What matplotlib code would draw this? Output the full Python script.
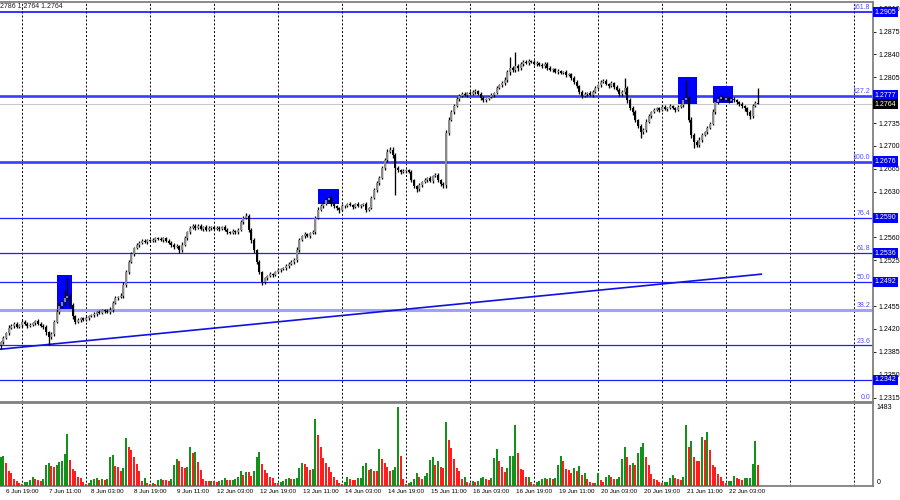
import numpy as np
import matplotlib.pyplot as plt

plt.rcParams["font.family"] = ["Liberation Sans Narrow", "Liberation Sans", "DejaVu Sans"]

# hourly closes
closes = [
    1.2400, 1.2406, 1.2414, 1.2422, 1.2425, 1.2428, 1.2423, 1.2426, 1.2431, 1.2428,
    1.2425, 1.2426, 1.2429, 1.2432, 1.2428, 1.2425, 1.2423, 1.2415, 1.2408, 1.2412,
    1.2431, 1.2446, 1.2455, 1.2461, 1.2468, 1.2471, 1.2457, 1.2440, 1.2431, 1.2434,
    1.2437, 1.2434, 1.2437, 1.2440, 1.2441, 1.2443, 1.2446, 1.2445, 1.2449, 1.2448,
    1.2446, 1.2449, 1.2460, 1.2468, 1.2469, 1.2471, 1.2487, 1.2507, 1.2523, 1.2535,
    1.2544, 1.2549, 1.2552, 1.2555, 1.2553, 1.2556, 1.2555, 1.2556, 1.2559, 1.2558,
    1.2556, 1.2559, 1.2555, 1.2552, 1.2549, 1.2546, 1.2547, 1.2541, 1.2549, 1.2559,
    1.2568, 1.2575, 1.2578, 1.2575, 1.2578, 1.2573, 1.2576, 1.2572, 1.2575, 1.2576,
    1.2573, 1.2575, 1.2573, 1.2576, 1.2572, 1.2568, 1.2567, 1.2570, 1.2568, 1.2572,
    1.2584, 1.2590, 1.2593, 1.2572, 1.2556, 1.2541, 1.2523, 1.2507, 1.2492, 1.2498,
    1.2501, 1.2504, 1.2503, 1.2507, 1.2510, 1.2512, 1.2513, 1.2516, 1.2520, 1.2523,
    1.2526, 1.2541, 1.2556, 1.2562, 1.2565, 1.2562, 1.2567, 1.2568, 1.2590, 1.2602,
    1.2608, 1.2611, 1.2617, 1.2621, 1.2611, 1.2608, 1.2605, 1.2602, 1.2608, 1.2608,
    1.2611, 1.2610, 1.2607, 1.2611, 1.2608, 1.2610, 1.2611, 1.2602, 1.2605, 1.2621,
    1.2633, 1.2643, 1.2651, 1.2666, 1.2679, 1.2691, 1.2694, 1.2686, 1.2666, 1.2663,
    1.2660, 1.2662, 1.2663, 1.2660, 1.2648, 1.2639, 1.2634, 1.2640, 1.2645, 1.2648,
    1.2651, 1.2647, 1.2654, 1.2656, 1.2648, 1.2642, 1.2640, 1.2720, 1.2740, 1.2752,
    1.2761, 1.2772, 1.2777, 1.2780, 1.2778, 1.2781, 1.2780, 1.2783, 1.2784, 1.2780,
    1.2774, 1.2770, 1.2772, 1.2775, 1.2778, 1.2781, 1.2789, 1.2793, 1.2796, 1.2801,
    1.2813, 1.2819, 1.2816, 1.2822, 1.2819, 1.2826, 1.2829, 1.2827, 1.2830, 1.2829,
    1.2826, 1.2827, 1.2824, 1.2822, 1.2826, 1.2819, 1.2816, 1.2818, 1.2813, 1.2815,
    1.2812, 1.2813, 1.2809, 1.2810, 1.2804, 1.2798, 1.2792, 1.2783, 1.2777, 1.2780,
    1.2781, 1.2778, 1.2783, 1.2789, 1.2793, 1.2798, 1.2800, 1.2795, 1.2792, 1.2796,
    1.2790, 1.2786, 1.2780, 1.2783, 1.2789, 1.2770, 1.2758, 1.2752, 1.2740, 1.2731,
    1.2721, 1.2725, 1.2737, 1.2746, 1.2752, 1.2755, 1.2758, 1.2755, 1.2760, 1.2757,
    1.2758, 1.2761, 1.2758, 1.2755, 1.2760, 1.2763, 1.2770, 1.2774, 1.2740, 1.2717,
    1.2706, 1.2702, 1.2709, 1.2717, 1.2721, 1.2728, 1.2734, 1.2752, 1.2767, 1.2772,
    1.2775, 1.2770, 1.2774, 1.2769, 1.2772, 1.2770, 1.2767, 1.2764, 1.2761, 1.2758,
    1.2752, 1.2746, 1.2761, 1.2766, 1.2764,
]
first_open = 1.2395

# wick lengths beyond the body, in pips
up_wick = [
    2, 3, 2, 4, 2, 3, 2, 1, 3, 2, 2, 3, 1, 2, 3, 2, 2, 3, 2, 4,
    3, 4, 5, 4, 12, 27, 4, 3, 2, 3, 2, 2, 3, 2, 2, 3, 2, 3, 2, 2,
    2, 4, 3, 3, 2, 4, 5, 4, 3, 3, 2, 3, 2, 2, 3, 2, 2, 3, 2, 2,
    3, 2, 2, 3, 2, 2, 3, 2, 4, 3, 2, 3, 2, 2, 3, 2, 2, 3, 2, 2,
    2, 3, 2, 2, 3, 2, 2, 3, 2, 2, 3, 3, 4, 3, 2, 3, 2, 3, 2, 2,
    2, 3, 2, 2, 3, 2, 2, 3, 2, 2, 3, 4, 3, 2, 3, 2, 2, 4, 3, 4,
    3, 3, 4, 3, 2, 3, 2, 2, 3, 2, 2, 3, 2, 2, 3, 2, 2, 3, 2, 3,
    3, 4, 3, 4, 3, 4, 5, 4, 3, 3, 2, 3, 2, 2, 3, 2, 2, 3, 2, 3,
    2, 3, 2, 2, 3, 2, 3, 5, 4, 3, 3, 3, 2, 3, 2, 2, 3, 2, 3, 2,
    2, 3, 2, 2, 3, 2, 3, 2, 3, 5, 4, 17, 3, 22, 4, 3, 3, 2, 3, 2,
    2, 3, 2, 3, 2, 2, 3, 2, 2, 3, 2, 2, 3, 2, 2, 3, 3, 2, 3, 2,
    2, 3, 2, 3, 2, 3, 2, 3, 2, 3, 2, 3, 2, 3, 15, 3, 4, 3, 3, 2,
    3, 3, 4, 3, 2, 3, 2, 2, 3, 2, 2, 3, 2, 2, 3, 2, 4, 27, 3, 4,
    3, 3, 4, 3, 2, 3, 2, 4, 3, 5, 3, 2, 3, 2, 2, 3, 2, 2, 3, 2,
    2, 3, 3, 3, 22,
]
down_wick = [
    5, 3, 2, 3, 2, 3, 2, 2, 3, 2, 3, 2, 2, 3, 2, 2, 3, 4, 13, 3,
    3, 2, 3, 3, 4, 4, 3, 4, 3, 2, 3, 2, 2, 3, 2, 2, 3, 2, 2, 3,
    2, 3, 3, 2, 3, 2, 3, 2, 3, 2, 3, 2, 3, 2, 2, 3, 2, 2, 3, 2,
    2, 3, 2, 2, 3, 3, 2, 5, 3, 2, 3, 2, 2, 3, 2, 2, 3, 2, 2, 3,
    2, 2, 3, 2, 2, 3, 2, 2, 3, 2, 2, 3, 2, 3, 4, 5, 4, 3, 5, 3,
    3, 2, 3, 2, 2, 3, 2, 3, 2, 2, 3, 3, 3, 2, 3, 2, 3, 2, 3, 2,
    2, 3, 2, 3, 3, 3, 3, 4, 2, 3, 2, 2, 3, 2, 2, 3, 2, 3, 2, 2,
    2, 3, 3, 2, 3, 3, 2, 4, 41, 3, 3, 2, 3, 2, 3, 3, 4, 3, 3, 2,
    3, 2, 3, 2, 3, 3, 4, 4, 3, 2, 3, 2, 3, 2, 2, 3, 2, 2, 3, 2,
    3, 2, 3, 2, 2, 3, 2, 2, 3, 2, 3, 4, 3, 3, 4, 2, 3, 2, 3, 2,
    2, 3, 2, 2, 3, 2, 2, 3, 2, 3, 2, 2, 3, 2, 3, 3, 4, 3, 3, 2,
    3, 2, 3, 2, 2, 3, 2, 2, 3, 2, 3, 2, 3, 3, 3, 4, 3, 4, 3, 4,
    9, 3, 3, 2, 3, 2, 2, 3, 2, 2, 3, 2, 2, 3, 2, 2, 3, 3, 4, 5,
    9, 4, 3, 3, 2, 3, 2, 2, 3, 2, 3, 2, 2, 3, 2, 3, 2, 3, 3, 4,
    4, 5, 3, 2, 0,
]

# tick volumes
volumes = [
    551, 563, 424, 285, 234, 120, 95, 57, 32, 63, 70, 108, 158, 120, 108, 95, 120, 386, 424, 373,
    361, 392, 456, 475, 601, 981, 487, 323, 285, 158, 150, 76, 32, 57, 108, 133, 138, 108, 120, 108,
    120, 551, 576, 373, 348, 272, 329, 899, 728, 677, 538, 411, 285, 95, 139, 44, 32, 44, 40, 108,
    133, 108, 100, 95, 120, 386, 513, 475, 361, 335, 361, 741, 627, 646, 456, 298, 120, 95, 90, 95,
    82, 80, 89, 108, 139, 108, 100, 108, 120, 158, 285, 203, 266, 260, 184, 285, 551, 633, 411, 298,
    247, 158, 139, 57, 44, 70, 95, 120, 139, 120, 133, 146, 329, 437, 411, 361, 298, 310, 1266, 962,
    728, 519, 437, 348, 266, 171, 108, 57, 32, 70, 158, 120, 115, 110, 139, 146, 373, 437, 298, 323,
    285, 280, 690, 500, 437, 361, 272, 298, 348, 1483, 563, 120, 32, 57, 70, 120, 247, 158, 120, 184,
    247, 487, 551, 386, 462, 348, 340, 1209, 867, 709, 500, 329, 272, 120, 158, 70, 57, 95, 70, 95,
    139, 171, 120, 108, 139, 519, 690, 462, 361, 266, 335, 563, 570, 1152, 627, 310, 305, 158, 171, 76,
    32, 70, 95, 120, 146, 120, 146, 120, 146, 386, 563, 462, 317, 298, 247, 335, 285, 373, 209, 247,
    120, 70, 44, 57, 234, 108, 70, 171, 203, 158, 120, 133, 158, 500, 728, 538, 386, 424, 386, 614,
    728, 804, 538, 392, 222, 133, 108, 70, 44, 70, 75, 146, 196, 139, 120, 115, 171, 1152, 741, 842,
    551, 475, 462, 918, 867, 1019, 677, 399, 361, 222, 158, 95, 57, 82, 85, 184, 146, 120, 108, 146,
    150, 155, 411, 848, 386,
]

fib_names = ["161.8", "127.2", "100.0", "76.4", "61.8", "50.0", "38.2", "23.6", "0.0"]
fib_prices = [1.2905, 1.2777, 1.2676, 1.2590, 1.2536, 1.2492, 1.2449, 1.2395, 1.2308]
level_price = 1.2342
tag_prices = [1.2905, 1.2777, 1.2676, 1.2590, 1.2536, 1.2492, 1.2342]
bid_price = 1.2764

# blue zones (bar index range, price range)
zone_x0 = [21.0, 119.1, 254.1, 267.0]
zone_x1 = [26.85, 126.9, 261.0, 274.7]
zone_lo = [1.2450, 1.2611, 1.2764, 1.2766]
zone_hi = [1.2503, 1.2634, 1.2805, 1.2792]

trend_x = [-0.3, 285.5]
trend_y = [1.2389, 1.2504]

# price scale labels that are not hidden under the level tags
price_ticks = [1.2910, 1.2875, 1.2840, 1.2805, 1.2735, 1.2700, 1.2665, 1.2630,
               1.2560, 1.2525, 1.2455, 1.2420, 1.2385, 1.2350, 1.2315]
vol_max_label = 1483

date_labels = ["6 Jun 19:00", "7 Jun 11:00", "8 Jun 03:00", "8 Jun 19:00", "9 Jun 11:00",
               "12 Jun 03:00", "12 Jun 19:00", "13 Jun 11:00", "14 Jun 03:00", "14 Jun 19:00",
               "15 Jun 11:00", "16 Jun 03:00", "16 Jun 19:00", "19 Jun 11:00", "20 Jun 03:00",
               "20 Jun 19:00", "21 Jun 11:00", "22 Jun 03:00"]
header = "2786 1.2764 1.2764"

# build candles
closes = np.array(closes)
opens = np.r_[first_open, closes[:-1]]
pip = 0.0001
highs = np.maximum(opens, closes) + np.array(up_wick) * pip
lows = np.minimum(opens, closes) - np.array(down_wick) * pip
x = np.arange(len(closes))
bull = closes >= opens

vols = np.array(volumes)
vol_up = np.r_[True, vols[1:] > vols[:-1]]

FS = 5.0
FS_DATE = 4.5
BLUE = "#0000ff"
AXCOL = "#808080"

fig = plt.figure(figsize=(9, 5), dpi=100)
ax = fig.add_axes([0.0, 0.196, 0.97, 0.80])
axv = fig.add_axes([0.0, 0.028, 0.97, 0.166])

xlim = (-0.26, 327.1)

# grid
grid_bars = np.arange(8, 327, 24)
for a in (ax, axv):
    for g in grid_bars:
        a.axvline(g, color="#000000", lw=0.7, ls=(0, (2, 2)), zorder=1)

# fibonacci levels
fib_style = {
    "161.8": (BLUE, 1.1), "127.2": ("#3c3cff", 1.9), "100.0": ("#3c3cff", 1.9),
    "38.2": ("#a0a0ff", 2.2),
}
for name, p in zip(fib_names, fib_prices):
    col, lw = fib_style.get(name, ("#2020ff", 0.9))
    ax.axhline(p, color=col, lw=lw, zorder=2)
    ax.text(0.997, p + 0.00012, name, transform=ax.get_yaxis_transform(),
            ha="right", va="bottom", fontsize=FS, color="#5050ff", zorder=6)
ax.axhline(level_price, color="#2020ff", lw=0.9, zorder=2)
ax.axhline(bid_price, color="#c8c8c8", lw=0.8, zorder=2)

# trend line
ax.plot(trend_x, trend_y, color="#1010e0", lw=1.2, zorder=2, solid_capstyle="butt")

# zones
for x0, x1, lo, hi in zip(zone_x0, zone_x1, zone_lo, zone_hi):
    ax.fill_between([x0, x1], lo, hi, color=BLUE, lw=0, zorder=3)

# candles
ax.vlines(x, lows, highs, color="black", lw=0.95, zorder=4)
body_h = np.maximum(np.abs(closes - opens), 0.00007)
body_b = np.minimum(opens, closes)
ax.bar(x, body_h, bottom=body_b, width=0.78,
       color=np.where(bull, "#8a8a8a", "#000000"), lw=0, zorder=5)

ax.set_xlim(*xlim)
ax.set_ylim(1.23083, 1.29203)
ax.set_xticks([])
ax.yaxis.tick_right()
ax.set_yticks(price_ticks)
ax.set_yticklabels([f"{t:.4f}" for t in price_ticks])
ax.tick_params(axis="y", labelsize=FS, length=2.5, width=0.6, pad=1.5, colors="black")

# price tags
for p in tag_prices:
    ax.text(1.002, p, f"{p:.4f}", transform=ax.get_yaxis_transform(), ha="left", va="center",
            fontsize=FS, color="white", clip_on=False, zorder=10,
            bbox=dict(boxstyle="square,pad=0.25", fc=BLUE, ec="none"))
ax.text(1.002, bid_price, f"{bid_price:.4f}", transform=ax.get_yaxis_transform(), ha="left",
        va="center", fontsize=FS, color="white", clip_on=False, zorder=10,
        bbox=dict(boxstyle="square,pad=0.25", fc="black", ec="none"))

# volumes
axv.bar(x, vols, width=0.8, color=np.where(vol_up, "#12921a", "#ff1e1e"), lw=0, zorder=3)
axv.set_xlim(*xlim)
axv.set_ylim(-5, 1564)
axv.set_xticks([])
axv.set_yticks([])
for v, va in ((vol_max_label, "center"), (0, "bottom")):
    axv.text(1.004, v, str(v), transform=axv.get_yaxis_transform(), ha="left", va=va,
             fontsize=FS, color="black", clip_on=False)

for j, lab in enumerate(date_labels):
    axv.text(8 + 16 * j, -0.035, lab, transform=axv.get_xaxis_transform(),
             ha="center", va="top", fontsize=FS_DATE, color="black", clip_on=False)

for a in (ax, axv):
    a.set_facecolor("white")
    a.spines["left"].set_visible(False)
    for s in ("top", "right", "bottom"):
        a.spines[s].set_color(AXCOL)
        a.spines[s].set_linewidth(1.3)

fig.text(0.0, 0.993, header, ha="left", va="top", fontsize=FS, color="#202020")

fig.savefig("out.png", dpi=100)
